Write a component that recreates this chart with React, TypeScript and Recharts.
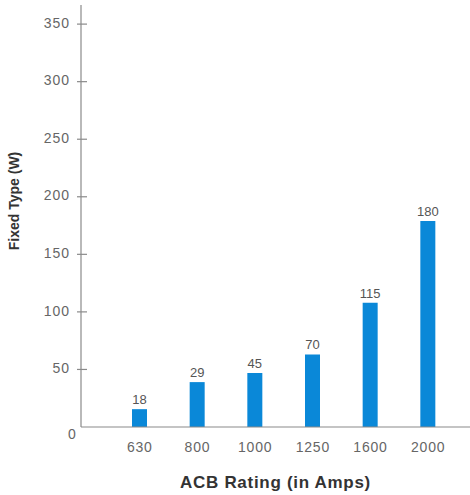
import { BarChart, Bar, XAxis, YAxis, LabelList } from "recharts";

const ratings = ["630", "800", "1000", "1250", "1600", "2000"];
// bar heights as drawn in the picture
const losses = [15.5, 39, 47, 63, 108, 179];
// printed value labels above each bar
const valueLabels = ["18", "29", "45", "70", "115", "180"];
const yTicks = [0, 50, 100, 150, 200, 250, 300, 350];

const data = ratings.map((r, i) => ({ rating: r, loss: losses[i], label: valueLabels[i] }));

const font = "'Liberation Sans', Arial, sans-serif";
const axisColor = "#8a8a8a";

const YTick = (props: any) => {
  const { x, y, payload } = props;
  if (payload.value === 0) {
    return (
      <text x={x - 9} y={y + 8} textAnchor="middle" dominantBaseline="middle" fontSize={14} fill="#666" fontFamily={font}>
        0
      </text>
    );
  }
  return (
    <g>
      <line x1={x - 4} x2={x + 6} y1={y} y2={y} stroke={axisColor} strokeWidth={1.2} />
      <text x={x - 11} y={y} textAnchor="end" dominantBaseline="middle" fontSize={14} letterSpacing={1} fill="#666" fontFamily={font}>
        {payload.value}
      </text>
    </g>
  );
};

const YTitle = (props: any) => {
  const { x, y, height } = props.viewBox;
  const cx = x + 15;
  const cy = y + height / 2 - 15;
  return (
    <text x={cx} y={cy} transform={`rotate(-90, ${cx}, ${cy})`} textAnchor="middle" dominantBaseline="middle" fontSize={14} fontWeight="bold" fill="#333" fontFamily={font}>
      Fixed Type (W)
    </text>
  );
};

export default function App() {
  return (
    <div style={{ position: "absolute", left: 0, top: 0, background: "#fff" }}>
      <BarChart width={470} height={495} data={data} margin={{ top: 5, right: 0, bottom: 0, left: 0 }}>
        <XAxis
          dataKey="rating"
          padding={{ left: 30, right: 13 }}
          height={68}
          stroke={axisColor}
          strokeWidth={1.2}
          tickLine={false}
          tickSize={0}
          tickMargin={15}
          tick={{ fontSize: 14, fill: "#666", fontFamily: font, letterSpacing: 0.8 }}
          label={{ value: "ACB Rating (in Amps)", position: "insideBottom", offset: 7, fontSize: 17, fontWeight: "bold", letterSpacing: 0.7, fill: "#333", fontFamily: font }}
        />
        <YAxis
          width={81}
          domain={[0, 366.6]}
          ticks={yTicks}
          allowDataOverflow
          stroke={axisColor}
          strokeWidth={1.2}
          tickLine={false}
          tickSize={0}
          tickMargin={0}
          tick={<YTick />}
          label={{ content: <YTitle /> }}
        />
        <Bar dataKey="loss" fill="#0a88d8" barSize={15} isAnimationActive={false}>
          <LabelList dataKey="label" position="top" offset={5} fontSize={13} fill="#555" fontFamily={font} />
        </Bar>
      </BarChart>
    </div>
  );
}
